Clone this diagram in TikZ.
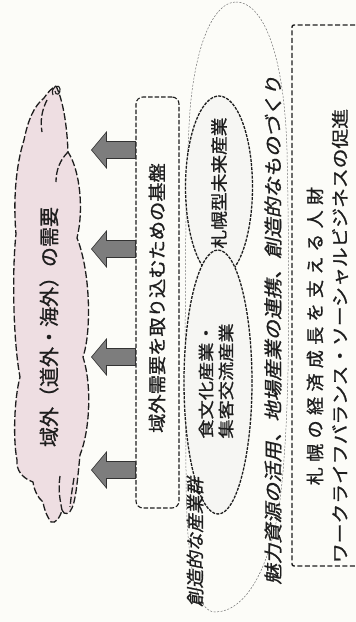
\documentclass[tikz,border=0pt]{standalone}
\usepackage{fontspec}
\usepackage{graphicx}
\setmainfont{Noto Sans CJK JP}
\newfontfamily\jp[FakeBold=1]{Noto Sans CJK JP}
\newfontfamily\jpsl[FakeSlant=0.2,FakeBold=1]{Noto Sans CJK JP}
\newfontfamily\jpls[LetterSpace=30,FakeBold=1]{Noto Sans CJK JP}
\usetikzlibrary{shapes.geometric}
\newcommand\hstr[2]{\scalebox{#1}[1]{#2}}
\definecolor{bg}{RGB}{252,252,248}
\definecolor{cloudpink}{RGB}{238,222,226}
\definecolor{arrowgray}{RGB}{125,125,125}
\definecolor{inkc}{RGB}{30,30,30}
\definecolor{ellfill}{RGB}{246,246,243}
\begin{document}
\begin{tikzpicture}[x=1pt,y=-1pt,
  cloudline/.style={draw=inkc, line width=1.3pt, dash pattern=on 7pt off 2.5pt},
  thinell/.style={draw=black!55, line width=0.5pt, dash pattern=on 2pt off 1.5pt},
  boldell/.style={ellipse, draw=inkc, fill=ellfill, line width=1.3pt, dash pattern=on 3pt off 1.2pt, inner sep=0pt},
  dashrect/.style={draw=inkc, line width=1.1pt, dash pattern=on 4.5pt off 2pt, rounded corners=7pt, inner sep=0pt},
  hrbox/.style={draw=inkc, line width=1.4pt, dash pattern=on 5pt off 2.5pt, rounded corners=2pt, inner sep=0pt},
  bigarrow/.style={fill=arrowgray, draw=black!80, line width=0.6pt, line join=miter},
  txt/.style={rotate=90, inner sep=0pt, text=inkc},
  sltxt/.style={rotate=90, inner sep=0pt, text=inkc}]
\useasboundingbox (0,0) rectangle (356,622);
\fill[bg] (0,0) rectangle (356,622);

% large thin dashed oval
\draw[thinell] (236,2) .. controls (262,2) and (284,50) .. (287,150)
  .. controls (290,300) and (290,420) .. (280,500)
  .. controls (270,570) and (245,612) .. (215,612)
  .. controls (195,612) and (186,560) .. (186,470)
  .. controls (185,350) and (184,200) .. (190,110)
  .. controls (196,40) and (215,2) .. (236,2) -- cycle;

% cloud
\filldraw[fill=cloudpink, cloudline] (56,86)
  .. controls (63,100) and (67,125) .. (68,152)
  .. controls (80,170) and (84,210) .. (77,238)
  .. controls (90,270) and (92,330) .. (83,357)
  .. controls (92,385) and (90,430) .. (80,455)
  .. controls (78,475) and (76,500) .. (72,508)
  .. controls (70,514) and (64,516) .. (62,510)
  .. controls (60,518) and (55,524) .. (51,522)
  .. controls (46,515) and (44,508) .. (43,502)
  .. controls (38,498) and (34,490) .. (33,482)
  .. controls (22,478) and (16,470) .. (17,460)
  .. controls (13,440) and (14,400) .. (20,377)
  .. controls (13,340) and (12,270) .. (16,234)
  .. controls (13,200) and (16,165) .. (24,140)
  .. controls (28,120) and (34,106) .. (44,98)
  .. controls (48,92) and (52,88) .. (56,86) -- cycle;
\draw[cloudline] (47,100) .. controls (42,110) and (40,120) .. (42,132);
\draw[cloudline] (68,152) .. controls (60,160) and (56,170) .. (56,182);
\draw[cloudline] (60,476) .. controls (58,490) and (60,500) .. (62,510);
\draw[cloudline] (74,478) .. controls (72,490) and (71,498) .. (70,507);
\draw[draw=inkc, line width=1.1pt] (53,95) .. controls (50,87) and (59,83) .. (60,89)
  .. controls (61,95) and (55,96) .. (55,91);
\node[txt, font=\jp\fontsize{20pt}{24pt}\selectfont] (cloudtext) at (49,327) {域外（道外・海外）の需要};

% base box
\node[dashrect, minimum width=43pt, minimum height=411pt] (base) at (157.5,302.5) {};
\node[txt, font=\jp\fontsize{18pt}{22pt}\selectfont] (basetext) at (157,298) {\hstr{1.07}{域外需要を取り込むための基盤}};

% arrows
\foreach \y in {150,249,357,470}{
  \draw[bigarrow] (base.west |- 0,\y) ++(0,-8.5) -- ++(-29,0) -- ++(0,-9.5)
    -- ++(-15,18) -- ++(15,18) -- ++(0,-9.5) -- ++(29,0) -- cycle;
}

% inner ellipses
\node[boldell, minimum width=67pt, minimum height=182pt] (e1) at (219,187) {};
\node[boldell, minimum width=68pt, minimum height=264pt] (e2) at (218,382) {};
\node[txt, font=\jp\fontsize{17pt}{22pt}\selectfont] (e1text) at (219,183) {\hstr{1.1}{札幌型未来産業}};
\node[txt, align=center, font=\jp\fontsize{16pt}{20pt}\selectfont] (e2text) at (216,381) {\hstr{1.2}{食文化産業・}\\\hstr{1.2}{集客交流産業}};

% oval labels
\node[sltxt, font=\jpsl\fontsize{18.5pt}{22pt}\selectfont] (ovallabel) at (273,330) {\hstr{1.1}{魅力資源の活用、地場産業の連携、創造的なものづくり}};
\node[sltxt, font=\jpsl\fontsize{18pt}{22pt}\selectfont] (grouplabel) at (195,542) {\hstr{1.03}{創造的な産業群}};

% right box
\node[hrbox, minimum width=80pt, minimum height=541pt] (hr) at (332,295.5) {};
\node[txt, font=\jpls\fontsize{18pt}{20pt}\selectfont] (hrtext1) at (315,336) {札幌の経済成長を支える人財};
\node[txt, font=\jp\fontsize{17.5pt}{20pt}\selectfont] (hrtext2) at (340,336) {\hstr{1.13}{ワークライフバランス・ソーシャルビジネスの促進}};
\end{tikzpicture}
\end{document}
